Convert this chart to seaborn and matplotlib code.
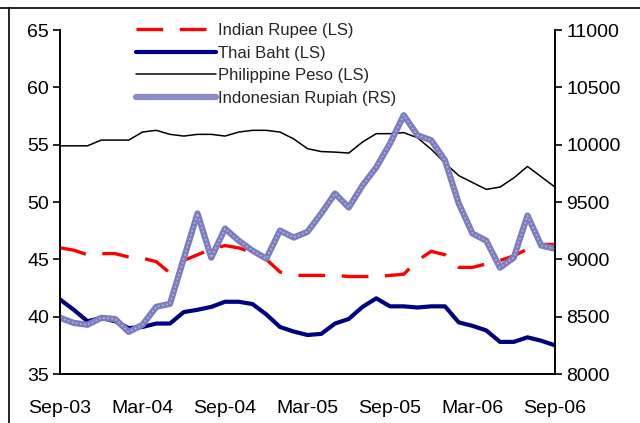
import numpy as np
import pandas as pd
import seaborn as sns
import matplotlib.pyplot as plt
from matplotlib.lines import Line2D

sns.set_style("white")
plt.rcParams["font.family"] = ["Liberation Sans", "DejaVu Sans"]

# monthly data, Sep-03 .. Sep-06
months = list(range(37))
tick_pos = [0, 6, 12, 18, 24, 30, 36]
tick_labels = ["Sep-03", "Mar-04", "Sep-04", "Mar-05", "Sep-05", "Mar-06", "Sep-06"]

rupee = [46.0, 45.8, 45.4, 45.5, 45.5, 45.2, 45.1, 44.8, 43.8, 44.9, 45.4, 45.9,
         46.2, 46.0, 45.6, 45.0, 43.9, 43.6, 43.6, 43.6, 43.6, 43.5, 43.5, 43.5,
         43.6, 43.7, 44.9, 45.7, 45.4, 44.3, 44.3, 44.6, 44.9, 45.3, 45.9, 46.3, 46.3]
baht = [41.5, 40.6, 39.6, 39.9, 39.6, 39.0, 39.1, 39.4, 39.4, 40.4, 40.6, 40.85,
        41.3, 41.3, 41.1, 40.2, 39.1, 38.7, 38.4, 38.5, 39.4, 39.8, 40.85, 41.6,
        40.9, 40.9, 40.8, 40.9, 40.9, 39.5, 39.2, 38.8, 37.8, 37.8, 38.2, 37.9, 37.5]
peso = [54.9, 54.9, 54.9, 55.4, 55.4, 55.4, 56.1, 56.25, 55.9, 55.75, 55.9, 55.9,
        55.75, 56.1, 56.25, 56.25, 56.1, 55.5, 54.65, 54.4, 54.35, 54.27, 55.23, 55.96,
        55.96, 56.05, 55.6, 54.6, 53.4, 52.3, 51.7, 51.1, 51.3, 52.1, 53.1, 52.2, 51.3]
rupiah = [8490, 8446, 8429, 8490, 8480, 8367, 8429, 8586, 8612, 9006, 9400, 9015,
          9268, 9163, 9076, 9006, 9251, 9190, 9240, 9400, 9574, 9452, 9644, 9802,
          10010, 10257, 10082, 10038, 9863, 9487, 9225, 9163, 8927, 9015, 9382, 9120, 9093]

fig = plt.figure(figsize=(6.4, 4.23), dpi=100)
ax = fig.add_axes([60 / 640, 1 - 374 / 423, 495 / 640, 344 / 423])
ax2 = ax.twinx()

sns.lineplot(x=months, y=rupee, ax=ax, color="#ff0000", lw=2.4)
ax.lines[-1].set_dashes((8, 5))
sns.lineplot(x=months, y=baht, ax=ax, color="#000080", lw=3)
sns.lineplot(x=months, y=peso, ax=ax, color="black", lw=1.1)
sns.lineplot(x=months, y=rupiah, ax=ax2, color="#7c7cc0", lw=4.5)
sns.lineplot(x=months, y=rupiah, ax=ax2, color="#b4b4e0", lw=1.2)
ax2.lines[-1].set_dashes((1, 1.5))

ax.set_xlim(0, 36)
ax.set_ylim(35, 65)
ax.set_yticks(range(35, 66, 5))
ax2.set_ylim(8000, 11000)
ax2.set_yticks(range(8000, 11001, 500))
ax.set_xticks(tick_pos)
ax.set_xticklabels(tick_labels)

for a in (ax, ax2):
    for s in a.spines.values():
        s.set_color("black")
        s.set_linewidth(1.2)
    a.spines["top"].set_visible(False)
    a.tick_params(direction="out", length=5, width=1.2, color="black",
                  labelsize=14, labelcolor="black")
ax.tick_params(axis="y", pad=3)
ax2.tick_params(axis="y", pad=3)
ax.tick_params(axis="x", pad=14)
ax.set_xlabel("")
ax.set_ylabel("")
ax2.set_ylabel("")

handles = [
    Line2D([], [], color="#ff0000", lw=2.4, dashes=(8, 5)),
    Line2D([], [], color="#000080", lw=3),
    Line2D([], [], color="black", lw=1.1),
    Line2D([], [], color="#8c8cc8", lw=4.5),
]
labels = ["Indian Rupee (LS)", "Thai Baht (LS)", "Philippine Peso (LS)", "Indonesian Rupiah (RS)"]
ax2.legend(handles, labels, loc="upper left", bbox_to_anchor=(136 / 640, 1 - 23 / 423),
           bbox_transform=fig.transFigure, frameon=False, fontsize=12,
           handlelength=4.8, handletextpad=0.15, labelspacing=0.46,
           borderpad=0, borderaxespad=0)

# outer frame lines (top and left)
fig.add_artist(Line2D([0, 1], [1 - 8 / 423, 1 - 8 / 423], color="black", lw=1.2,
                      transform=fig.transFigure))
fig.add_artist(Line2D([9 / 640, 9 / 640], [0, 1 - 8 / 423], color="black", lw=1.2,
                      transform=fig.transFigure))

plt.savefig("out.png", dpi=100)
